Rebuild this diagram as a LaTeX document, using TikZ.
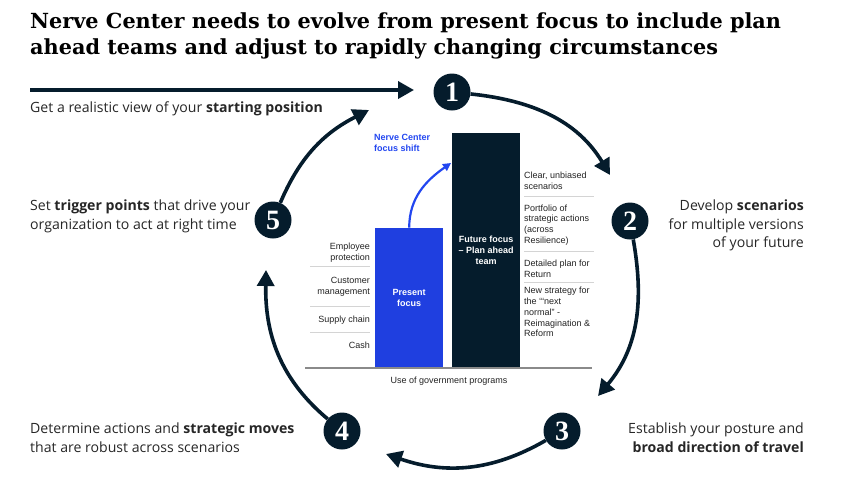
\documentclass[tikz,border=0pt]{standalone}
\usepackage{fontspec}
\setmainfont{Liberation Sans}
\newfontfamily\headFont{DejaVu Serif}
\newfontfamily\stepFont{Open Sans}
\newfontfamily\numFont{Liberation Serif}
\usetikzlibrary{arrows.meta}
\definecolor{cNavy}{HTML}{051C2C}
\definecolor{cBlue}{HTML}{1F3FE0}
\definecolor{cShift}{HTML}{2246F0}
\definecolor{cAxis}{HTML}{8A8A8A}
\definecolor{cSep}{HTML}{D4D4D4}
\definecolor{cLbl}{HTML}{222222}
\tikzset{
  headline/.style={font=\headFont\bfseries\fontsize{20.8}{26.5}\selectfont,
                   anchor=north west, align=left, inner sep=0pt},
  stepNum/.style={circle, fill=cNavy, text=white, minimum size=37pt, inner sep=0pt,
                  font=\numFont\bfseries\fontsize{28}{28}\selectfont},
  cycArrow/.style={draw=cNavy, line width=3.6pt, -{Triangle[length=16pt, width=17pt]}},
  stepText/.style={font=\stepFont\fontsize{14.1}{18.7}\selectfont, text=black!85, inner sep=0pt},
  barLbl/.style={font=\fontsize{9}{10.8}\selectfont, text=cLbl, inner sep=0pt},
  barText/.style={text=white, font=\bfseries\fontsize{9}{10.8}\selectfont, align=center,
                  inner sep=0pt, anchor=south west},
  sepLine/.style={draw=cSep, line width=0.8pt},
  shiftArrow/.style={draw=cShift, line width=2.2pt, -{Triangle[length=8pt, width=8pt]}},
}
\begin{document}
\begin{tikzpicture}[x=1pt, y=1pt]
\useasboundingbox (0,0) rectangle (850,-480);

% ========== TITLE ==========
\node[headline] (title) at (30,-12)
  {Nerve Center needs to evolve from present focus to include plan\\
   ahead teams and adjust to rapidly changing circumstances};

% ========== CYCLE ==========
\node[stepNum] (n1) at (452,-92) {1};
\node[stepNum] (n2) at (630,-221) {2};
\node[stepNum] (n3) at (562,-431) {3};
\node[stepNum] (n4) at (342,-431) {4};
\node[stepNum] (n5) at (273,-220) {5};

\coordinate (s0) at (30,-90);
\coordinate (t0) at (414,-90);
\coordinate (t1) at (610,-175);
\coordinate (t2) at (598,-396);
\coordinate (t3) at (386,-454);
\coordinate (t4) at (266,-270);
\coordinate (t5) at (369,-110);

\draw[cycArrow] (s0) -- (t0);
\draw[cycArrow] (n1) to[out=-6, in=121] (t1);
\draw[cycArrow] (n2) to[out=-80, in=50] (t2);
\draw[cycArrow] (n3) to[out=-150, in=-19] (t3);
\draw[cycArrow] (n4) to[out=140, in=-91] (t4);
\draw[cycArrow] (n5) to[out=67, in=-153] (t5);

% step texts
\node[stepText, anchor=north west] (txt1) at (30,-101.5)
  {Get a realistic view of your \textbf{starting position}};
\node[stepText, anchor=north east, align=right] (txt2) at (804,-199.5)
  {Develop \textbf{scenarios}\\for multiple versions\\of your future};
\node[stepText, anchor=north east, align=right] (txt3) at (804,-422.5)
  {Establish your posture and\\\textbf{broad direction of travel}};
\node[stepText, anchor=north west, align=left] (txt4) at (30,-422.5)
  {Determine actions and \textbf{strategic moves}\\that are robust across scenarios};
\node[stepText, anchor=north west, align=left] (txt5) at (30,-199.5)
  {Set \textbf{trigger points} that drive your\\organization to act at right time};

% ========== CHART ==========
\node[barText, fill=cBlue, minimum width=68pt, minimum height=140pt] (pres)
  at (375,-368) {Present\\focus};
\node[barText, fill=cNavy, minimum width=68pt, minimum height=235pt] (fut)
  at (452,-368) {Future focus\\-- Plan ahead\\team};

\coordinate (axL) at (305,-368);
\coordinate (axR) at (592,-368);
\draw[cAxis, line width=1.6pt] (axL) -- (axR);
\node[barLbl, anchor=base] (govt) at (449,-383) {Use of government programs};

% left column
\node[barLbl, anchor=east, align=right] (lEmp) at (370,-253) {Employee\\protection};
\node[barLbl, anchor=east, align=right] (lCust) at (370,-287) {Customer\\management};
\node[barLbl, anchor=east] (lSup) at (370,-320) {Supply chain};
\node[barLbl, anchor=east] (lCash) at (370,-345) {Cash};
\foreach \y in {266,306,332}
  \draw[sepLine] (310,-\y) -- (370,-\y);

% right column
\node[barLbl, anchor=west, align=left] (rClear) at (524,-181) {Clear, unbiased\\scenarios};
\node[barLbl, anchor=west, align=left] (rPort) at (524,-225)
  {Portfolio of\\strategic actions\\(across\\Resilience)};
\node[barLbl, anchor=west, align=left] (rDet) at (524,-269) {Detailed plan for\\Return};
\node[barLbl, anchor=west, align=left] (rNew) at (524,-312)
  {New strategy for\\the ‘“next\\normal” -\\Reimagination \&\\Reform};
\foreach \y in {196,251,282}
  \draw[sepLine] (524,-\y) -- (594,-\y);

% focus shift
\node[barLbl, anchor=north west, align=left, text=cShift, font=\bfseries\fontsize{9}{10.8}\selectfont]
  (shiftTxt) at (374,-134.5) {Nerve Center\\focus shift};
\coordinate (t6) at (451,-163);
\draw[shiftArrow] (pres.north) to[out=90, in=215] (t6);

\end{tikzpicture}
\end{document}
